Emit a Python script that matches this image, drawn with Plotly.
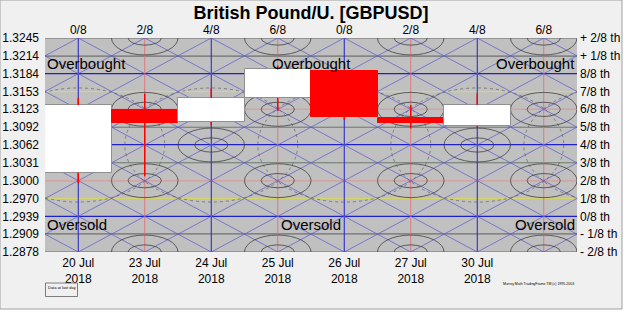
import plotly.graph_objects as go

# ---------------- data ----------------
dates = ["20 Jul<br>2018", "23 Jul<br>2018", "24 Jul<br>2018", "25 Jul<br>2018",
         "26 Jul<br>2018", "27 Jul<br>2018", "30 Jul<br>2018"]
opens = [1.3014, 1.3122, 1.3101, 1.3142, 1.3189, 1.3107, 1.3094]
highs = [1.3142, 1.3150, 1.3159, 1.3198, 1.3190, 1.3130, 1.3150]
lows = [1.2996, 1.3008, 1.3095, 1.3120, 1.3105, 1.3090, 1.3093]
closes = [1.3130, 1.3100, 1.3142, 1.3191, 1.3109, 1.3100, 1.3130]

# Murrey math levels (-2/8 ... +2/8)
level_values = [1.2878, 1.2909, 1.2939, 1.2970, 1.3000, 1.3031, 1.3062,
                1.3092, 1.3123, 1.3153, 1.3184, 1.3214, 1.3245]
left_labels = ["1.2878", "1.2909", "1.2939", "1.2970", "1.3000", "1.3031", "1.3062",
               "1.3092", "1.3123", "1.3153", "1.3184", "1.3214", "1.3245"]
right_labels = ["- 2/8 th", "- 1/8 th", "0/8 th", "1/8 th", "2/8 th", "3/8 th", "4/8 th",
                "5/8 th", "6/8 th", "7/8 th", "8/8 th", "+ 1/8 th", "+ 2/8 th"]
top_labels = ["0/8", "2/8", "4/8", "6/8", "0/8", "2/8", "4/8", "6/8"]

FONT = "Arial, 'Liberation Sans', sans-serif"
n_cols = len(top_labels)
ymin, ymax = level_values[0], level_values[-1]
step = (ymax - ymin) / (len(level_values) - 1)


def lv(k):
    """price of (fractional) murrey level index k (0 = 0/8)"""
    return ymin + (k + 2) * step


fig = go.Figure()
shapes = []

# page frame and plot background (paper coords)
L, R, T, B = 45, 48, 38, 66
W, H = 625, 318
pw, ph = W - L - R, H - T - B
shapes.append(dict(type="rect", xref="paper", yref="paper", layer="below",
                   x0=-L / pw, x1=(622 - L) / pw, y0=(H - B - 309) / ph, y1=(H - B) / ph,
                   fillcolor="#F0F0F0", line=dict(color="#A0A0A0", width=1)))
shapes.append(dict(type="rect", xref="paper", yref="paper", layer="below",
                   x0=0, x1=1, y0=0, y1=1, fillcolor="#C0C0C0", line=dict(width=0)))

# horizontal level lines
hcolors = {-2: "#606060", -1: "#505050", 0: "#2020C8", 1: "#DCDC50", 2: "#E09090",
           3: "#607060", 4: "#2020C8", 5: "#607060", 6: "#E09090", 7: "#DCDC50",
           8: "#2020C8", 9: "#505050", 10: "#606060"}
for i, v in enumerate(level_values):
    k = i - 2
    shapes.append(dict(type="line", xref="paper", yref="y", layer="below",
                       x0=0, x1=1, y0=v, y1=v,
                       line=dict(color=hcolors[k], width=1.2 if k in (0, 4, 8) else 0.9)))

# vertical column lines
for c in range(n_cols):
    col = "#2020C8" if c % 2 == 0 else "#E07878"
    shapes.append(dict(type="line", xref="x", yref="paper", layer="below",
                       x0=c, x1=c, y0=0, y1=1, line=dict(color=col, width=1)))

# diagonal speed lines (slope +-2 levels / column)
for cc in range(-18, 28, 2):
    shapes.append(dict(type="line", xref="x", yref="y", layer="below",
                       x0=-1, x1=9, y0=lv(cc - 2), y1=lv(cc + 18),
                       line=dict(color="#5858D0", width=0.7)))
    shapes.append(dict(type="line", xref="x", yref="y", layer="below",
                       x0=-1, x1=9, y0=lv(cc + 2), y1=lv(cc - 18),
                       line=dict(color="#5858D0", width=0.7)))

# ellipses
centers = [(c, k) for k in (-2, 2, 6, 10) for c in (1, 3, 5, 7)] + [(2, 4), (6, 4)]
for (c, k) in centers:
    for a, b in ((0.5, 0.95), (0.25, 0.4)):
        shapes.append(dict(type="circle", xref="x", yref="y", layer="below",
                           x0=c - a, x1=c + a, y0=lv(k - b), y1=lv(k + b),
                           line=dict(color="#404040", width=0.8)))
# dotted arcs
for (c, k) in [(2, 4), (6, 4), (0, 4), (4, 4), (8, 4)]:
    shapes.append(dict(type="circle", xref="x", yref="y", layer="below",
                       x0=c - 1.3, x1=c + 1.3, y0=lv(k - 3.2), y1=lv(k + 3.2),
                       line=dict(color="#505050", width=0.6, dash="dot")))

# ---------------- candles ----------------
xs = list(range(len(dates)))
base = [min(o, c) for o, c in zip(opens, closes)]
height = [max(abs(c - o), 0.00004) for o, c in zip(opens, closes)]
fill = ["#FFFFFF" if c >= o else "#FF0000" for o, c in zip(opens, closes)]
edge = ["#909090" if c >= o else "#FF0000" for o, c in zip(opens, closes)]

wx, wy = [], []
for i in xs:
    top, bot = max(opens[i], closes[i]), min(opens[i], closes[i])
    wx += [i, i, None, i, i, None]
    wy += [highs[i], top, None, bot, lows[i], None]
fig.add_trace(go.Scatter(x=wx, y=wy, mode="lines", line=dict(color="#FF0000", width=1.5),
                         hoverinfo="skip", showlegend=False))
fig.add_trace(go.Bar(x=xs, y=height, base=base, width=1.0,
                     marker=dict(color=fill, line=dict(color=edge, width=1)),
                     showlegend=False, hoverinfo="skip"))
# dummy trace for secondary axes
fig.add_trace(go.Scatter(x=[0], y=[ymin], xaxis="x2", yaxis="y2", mode="markers",
                         marker=dict(opacity=0), hoverinfo="skip", showlegend=False))

# ---------------- annotations ----------------
ann = []
for xp, anchor in ((0, "left"), (0.5, "center"), (1, "right")):
    ann.append(dict(text="Overbought", xref="paper", yref="y", x=xp, y=lv(8.55),
                    xanchor=anchor, yanchor="middle", showarrow=False,
                    font=dict(family=FONT, size=15, color="black")))
    ann.append(dict(text="Oversold", xref="paper", yref="y", x=xp, y=lv(-0.45),
                    xanchor=anchor, yanchor="middle", showarrow=False,
                    font=dict(family=FONT, size=15, color="black")))
ann.append(dict(text="Data at last day", xref="paper", yref="paper",
                x=(61.5 - L) / pw, y=(H - B - 287) / ph, xanchor="center", yanchor="middle",
                showarrow=False, font=dict(family=FONT, size=4, color="black")))
ann.append(dict(text="Murrey Math TradingFrame TM (c) 1995-2003", xref="paper", yref="paper",
                x=(576 - L) / pw, y=(H - B - 284) / ph, xanchor="right", yanchor="middle",
                showarrow=False, font=dict(family=FONT, size=3.5, color="black")))
shapes.append(dict(type="rect", xref="paper", yref="paper", layer="above",
                   x0=(45.5 - L) / pw, x1=(77.5 - L) / pw,
                   y0=(H - B - 296.5) / ph, y1=(H - B - 283) / ph,
                   fillcolor="rgba(0,0,0,0)", line=dict(color="#606060", width=0.8)))

tickfont = dict(family=FONT, size=12, color="black")
common = dict(showgrid=False, zeroline=False, showline=False, ticks="",
              tickfont=tickfont, automargin=False, fixedrange=True)
fig.update_layout(
    width=W, height=H,
    margin=dict(l=L, r=R, t=T, b=B, pad=0, autoexpand=False),
    paper_bgcolor="white", plot_bgcolor="rgba(0,0,0,0)",
    title=dict(text="<b>British Pound/U. [GBPUSD]</b>", x=(311 - L) / pw, xref="paper",
               xanchor="center", y=1 - 13 / H, yref="container", yanchor="middle",
               font=dict(family=FONT, size=18, color="black")),
    xaxis=dict(range=[-0.5, n_cols - 0.5], tickvals=xs, ticktext=dates,
               ticklabelstandoff=2, **common),
    xaxis2=dict(range=[-0.5, n_cols - 0.5], overlaying="x", side="top",
                tickvals=list(range(n_cols)), ticktext=top_labels,
                ticklabelstandoff=1, **common),
    yaxis=dict(range=[ymin, ymax], tickvals=level_values, ticktext=left_labels,
               ticklabelstandoff=5, **common),
    yaxis2=dict(range=[ymin, ymax], overlaying="y", side="right", tickvals=level_values,
                ticktext=right_labels, ticklabelstandoff=2, **common),
    bargap=0,
    shapes=shapes,
    annotations=ann,
)

fig.write_html("out.html")
